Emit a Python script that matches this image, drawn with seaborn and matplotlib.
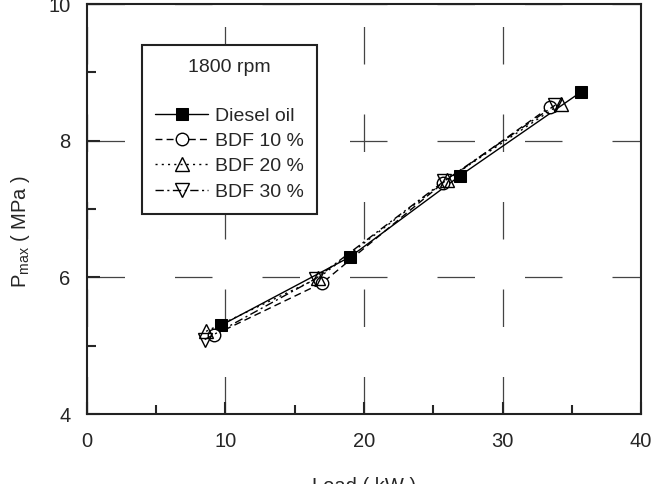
import matplotlib
matplotlib.use("Agg")
import matplotlib.pyplot as plt
import seaborn as sns
from matplotlib.ticker import MultipleLocator

# data
load_diesel = [9.7, 19.0, 26.95, 35.65]
pmax_diesel = [5.30, 6.30, 7.49, 8.71]
load_bdf10 = [9.2, 17.0, 25.7, 33.4]
pmax_bdf10 = [5.16, 5.92, 7.38, 8.49]
load_bdf20 = [8.6, 16.7, 26.0, 34.2]
pmax_bdf20 = [5.21, 5.99, 7.43, 8.54]
load_bdf30 = [8.5, 16.5, 25.8, 33.8]
pmax_bdf30 = [5.09, 5.98, 7.41, 8.52]

sns.set_style("ticks")
plt.rcParams['font.family'] = ['Liberation Sans', 'DejaVu Sans']
plt.rcParams['mathtext.fontset'] = 'custom'
plt.rcParams['mathtext.rm'] = 'Liberation Sans'
plt.rcParams['mathtext.it'] = 'Liberation Sans'

fig = plt.figure(figsize=(6.59, 4.84), dpi=100)
ax = fig.add_axes([0.132, 0.1446, 0.8407, 0.8471])

ms = 9
sns.lineplot(x=load_diesel, y=pmax_diesel, ax=ax, color='k', lw=1.0, linestyle='-',
             marker='s', markersize=ms, markerfacecolor='k', markeredgecolor='k',
             label='Diesel oil', sort=False)
sns.lineplot(x=load_bdf10, y=pmax_bdf10, ax=ax, color='k', lw=1.0, linestyle=(0, (5, 3)),
             marker='o', markersize=ms, markerfacecolor='white', markeredgecolor='k',
             markeredgewidth=1.0, label='BDF 10 %', sort=False)
sns.lineplot(x=load_bdf20, y=pmax_bdf20, ax=ax, color='k', lw=1.0, linestyle=(0, (1.5, 3)),
             marker='^', markersize=ms + 1, markerfacecolor='none', markeredgecolor='k',
             markeredgewidth=1.0, label='BDF 20 %', sort=False)
sns.lineplot(x=load_bdf30, y=pmax_bdf30, ax=ax, color='k', lw=1.0, linestyle=(0, (6, 2.5, 1.5, 2.5)),
             marker='v', markersize=ms + 1, markerfacecolor='none', markeredgecolor='k',
             markeredgewidth=1.0, label='BDF 30 %', sort=False)

ax.set_xlim(0, 40)
ax.set_ylim(4, 10)
ax.xaxis.set_major_locator(MultipleLocator(10))
ax.xaxis.set_minor_locator(MultipleLocator(5))
ax.yaxis.set_major_locator(MultipleLocator(2))
ax.yaxis.set_minor_locator(MultipleLocator(1))
ax.tick_params(which='both', direction='in', top=False, right=False, width=1.5, labelsize=14.5)
ax.tick_params(axis='x', which='both', pad=13)
ax.tick_params(axis='y', which='both', pad=12)
ax.tick_params(which='major', length=9)
ax.tick_params(which='minor', length=6.5)
for s in ax.spines.values():
    s.set_linewidth(1.5)
    s.set_color('#222222')

ax.grid(True, which='major', color='#444444', lw=0.9, linestyle=(0, (30, 40)))

ax.set_xlabel('Load ( kW )', fontsize=14.5, labelpad=19)
ax.set_ylabel('P$_{\\rm max}$ ( MPa )', fontsize=14.5)
ax.yaxis.set_label_coords(-0.099, 0.444)

leg = ax.legend(loc='upper left', bbox_to_anchor=(0.099, 0.90), title='1800 rpm\n',
                fontsize=14, title_fontsize=14, frameon=True, fancybox=False,
                handlelength=2.7, handletextpad=0.35, borderpad=0.7, labelspacing=0.4,
                borderaxespad=0)
leg.get_title().set_linespacing(1.5)
leg.get_frame().set_edgecolor('#222222')
leg.get_frame().set_linewidth(1.5)
leg.get_frame().set_alpha(1)

fig.savefig('out.png', dpi=100)
